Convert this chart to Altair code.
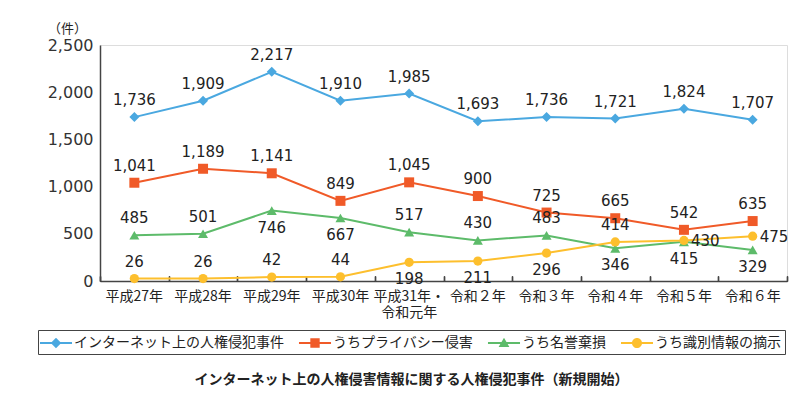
import altair as alt
import pandas as pd

years = ["平成27年", "平成28年", "平成29年", "平成30年", "平成31年・\n令和元年",
         "令和２年", "令和３年", "令和４年", "令和５年", "令和６年"]
series_names = ["インターネット上の人権侵犯事件", "うちプライバシー侵害", "うち名誉棄損", "うち識別情報の摘示"]
total = [1736, 1909, 2217, 1910, 1985, 1693, 1736, 1721, 1824, 1707]
privacy = [1041, 1189, 1141, 849, 1045, 900, 725, 665, 542, 635]
defamation = [485, 501, 746, 667, 517, 430, 483, 346, 415, 329]
identification = [26, 26, 42, 44, 198, 211, 296, 414, 430, 475]

pos_total = ["above"] * 10
pos_privacy = ["above"] * 10
pos_defamation = ["above", "above", "below", "below", "above", "above", "above", "below", "below", "below"]
pos_identification = ["above", "above", "above", "above", "below", "below", "below", "above", "right", "right"]

colors = ["#4AA8E0", "#F05A28", "#5DBB6A", "#FDBF2D"]
marker_shapes = ["diamond", "square", "triangle-up", "circle"]
legend_paths = [
    "M-1.78,-0.11H1.78V0.11H-1.78Z M0,-0.58L0.58,0L0,0.58L-0.58,0Z",
    "M-1.78,-0.11H1.78V0.11H-1.78Z M-0.52,-0.52H0.52V0.52H-0.52Z",
    "M-1.78,-0.11H1.78V0.11H-1.78Z M0,-0.58L0.6,0.45H-0.6Z",
    "M-1.78,-0.11H1.78V0.11H-1.78Z M-0.56,0A0.56,0.56 0 1,1 0.56,0A0.56,0.56 0 1,1 -0.56,0Z",
]

rows = []
for name, vals, poss in zip(series_names,
                            [total, privacy, defamation, identification],
                            [pos_total, pos_privacy, pos_defamation, pos_identification]):
    for y, v, p in zip(years, vals, poss):
        rows.append({"year": y, "series": name, "value": v, "pos": p})
df = pd.DataFrame(rows)

FONT_JP = "Noto Sans CJK JP"
FONT_NUM = "DejaVu Sans"

x_scale = alt.Scale(type="band", paddingInner=0, paddingOuter=0)
x_bottom = alt.X("year:N", sort=years, scale=x_scale,
                 axis=alt.Axis(title=None, labelAngle=0, labelFont=FONT_JP, labelFontSize=14,
                               labelColor="#222", labelPadding=8, labelLineHeight=16,
                               labelExpr="split(datum.label, '\\n')",
                               ticks=False, domainColor="#444", domainWidth=1.5,
                               labelBaseline="top"))
x_top = alt.X("year:N", sort=years, scale=x_scale,
              axis=alt.Axis(title=None, orient="top", labels=False, domain=False,
                            ticks=True, tickBand="extent", tickSize=5, tickColor="#444",
                            tickWidth=1.2, offset=-236))
x_none = alt.X("year:N", sort=years, scale=x_scale, axis=None)

y_axis = alt.Axis(title="（件）", titleAngle=0, titleX=-33, titleY=-17,
                  titleAlign="center", titleBaseline="middle",
                  titleFont=FONT_JP, titleFontSize=13, titleFontWeight="normal",
                  titleColor="#222",
                  values=[0, 500, 1000, 1500, 2000, 2500], format=",d",
                  labelFont=FONT_NUM, labelFontSize=16, labelColor="#333",
                  labelPadding=7, ticks=False, grid=False,
                  domainColor="#444", domainWidth=1.5)
y_enc = alt.Y("value:Q", scale=alt.Scale(domain=[0, 2500]), axis=y_axis)

legend = alt.Legend(
    title=None, orient="none", legendX=-62, legendY=285, direction="horizontal", columns=4,
    labelFont=FONT_JP, labelFontSize=14, labelColor="#222", labelLimit=400,
    symbolSize=324, symbolStrokeWidth=0, symbolOffset=5, labelOffset=9,
    columnPadding=14, padding=4, strokeColor="#444", symbolOpacity=1,
)
color_enc = alt.Color("series:N", sort=series_names,
                      scale=alt.Scale(domain=series_names, range=colors), legend=legend)

base = alt.Chart(df)

lines = base.mark_line(strokeWidth=2).encode(x=x_bottom, y=y_enc, color=color_enc)

point_layers = []
for name, shp in zip(series_names, marker_shapes):
    point_layers.append(
        base.transform_filter(alt.datum.series == name)
        .mark_point(filled=True, opacity=1, shape=shp, size=100 if shp != "circle" else 85)
        .encode(x=x_top, y=y_enc, color=color_enc)
    )

legend_layer = base.mark_point(filled=True, opacity=0).encode(
    x=x_none, y=y_enc, color=color_enc,
    shape=alt.Shape("series:N", sort=series_names,
                    scale=alt.Scale(domain=series_names, range=legend_paths),
                    legend=legend),
)

label_common = dict(font=FONT_NUM, fontSize=15, color="#222")
labels_above = base.transform_filter(alt.datum.pos == "above").mark_text(
    dy=-17, baseline="middle", align="center", **label_common
).encode(x=x_none, y=y_enc, text=alt.Text("value:Q", format=","))
labels_below = base.transform_filter(alt.datum.pos == "below").mark_text(
    dy=17, baseline="middle", align="center", **label_common
).encode(x=x_none, y=y_enc, text=alt.Text("value:Q", format=","))
labels_right = base.transform_filter(alt.datum.pos == "right").mark_text(
    dx=7, dy=1, baseline="middle", align="left", **label_common
).encode(x=x_none, y=y_enc, text=alt.Text("value:Q", format=","))

chart = alt.layer(
    lines, *point_layers, legend_layer, labels_above, labels_below, labels_right
).resolve_axis(x="independent").properties(
    width=687, height=236,
    autosize=alt.AutoSizeParams(type="none"),
    padding={"left": 92, "top": 37, "right": 14, "bottom": 107},
    title=alt.Title("インターネット上の人権侵害情報に関する人権侵犯事件（新規開始）",
                    orient="bottom", anchor="middle", font=FONT_JP, fontSize=14,
                    fontWeight="bold", color="#222", offset=18, dx=-32),
).configure_view(stroke="#888", strokeWidth=1.2).configure(background="white")

chart.save("out.html", embed_options={"renderer": "svg", "actions": False})
